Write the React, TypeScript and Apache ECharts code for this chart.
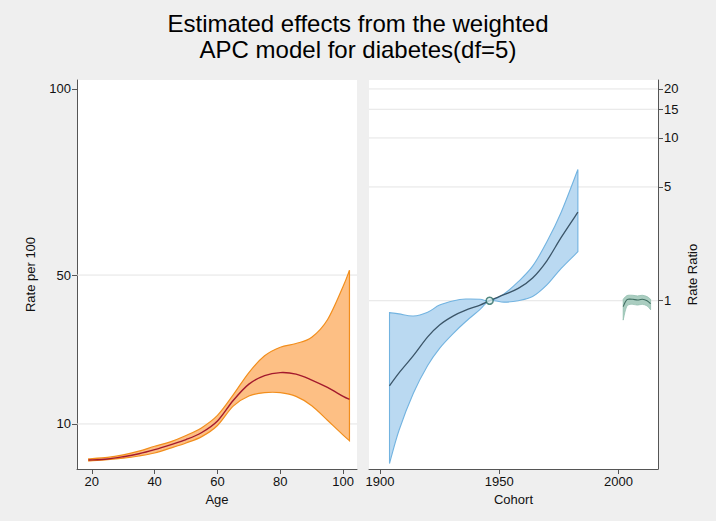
import React, { useEffect, useRef } from "react";
import * as echarts from "echarts";

// ---- Age effect (left panel, Rate per 100) ----
const ageX = [19, 25, 30, 35, 40, 45, 50, 55, 60, 65, 70, 75, 80, 85, 90, 95, 100, 102];
const ageMid = [0.3, 0.6, 1.2, 2.0, 3.1, 4.4, 5.8, 7.7, 10.8, 16.3, 20.7, 23.0, 23.8, 23.4, 21.8, 19.8, 17.4, 16.6];
const ageUpper = [0.6, 1.0, 1.7, 2.7, 4.0, 5.2, 6.9, 9.0, 12.3, 17.8, 23.8, 28.3, 30.6, 31.6, 33.3, 38.0, 47.0, 51.3];
const ageLower = [0.1, 0.4, 0.8, 1.4, 2.2, 3.5, 4.9, 6.6, 9.6, 14.8, 17.5, 18.4, 18.4, 17.4, 14.9, 11.0, 7.0, 5.5];
const ageTicks = [20, 40, 60, 80, 100];
const rateTicks = [10, 50, 100];
const rateGrid = [10, 50];

// ---- Cohort effect (right panel, Rate Ratio) ----
const cohortX = [1904, 1908, 1914, 1920, 1925, 1931, 1936, 1942, 1946, 1952, 1958, 1964, 1970, 1976, 1983];
const cohortMid = [0.30, 0.36, 0.46, 0.60, 0.71, 0.81, 0.875, 0.94, 1.0, 1.09, 1.19, 1.38, 1.76, 2.45, 3.5];
const cohortUpper = [0.845, 0.83, 0.805, 0.85, 0.94, 1.0, 1.024, 1.02, 1.0, 1.1, 1.31, 1.63, 2.3, 3.5, 6.4];
const cohortLower = [0.10, 0.16, 0.27, 0.40, 0.51, 0.635, 0.745, 0.885, 1.0, 0.98, 1.0, 1.06, 1.25, 1.58, 2.0];
const refPoint = [1946, 1];

// ---- Period effect ----
const periodX = [2002, 2003, 2004, 2006, 2008, 2010, 2012, 2013.5];
const periodMid = [0.92, 0.99, 1.02, 1.02, 1.01, 1.02, 1.0, 0.96];
const periodUpper = [1.02, 1.06, 1.08, 1.08, 1.07, 1.08, 1.06, 1.02];
const periodLower = [0.76, 0.88, 0.94, 0.95, 0.94, 0.95, 0.93, 0.88];

const cohortTicks = [1900, 1950, 2000];
const rrTicks = [1, 5, 10, 15, 20];

const FONT = "'Liberation Sans', Arial, sans-serif";
const AXIS_COLOR = "#555555";
const GRID_COLOR = "#e4e4e4";

const AGE_MIN = 15.3, AGE_MAX = 104.4;
const RATE_MIN = -2.1, RATE_MAX = 102.4;
const COH_MIN = 1895.4, COH_MAX = 2016.6;
const RR_MIN = 0.0925, RR_MAX = 22.7;

type Pt = number[];

// Catmull-Rom spline through pixel points -> cubic bezier path segment
function crPath(pts: Pt[], move: boolean): string {
  const n = pts.length;
  let d = (move ? "M" : "L") + pts[0][0].toFixed(2) + " " + pts[0][1].toFixed(2);
  for (let i = 0; i < n - 1; i++) {
    const p0 = pts[Math.max(i - 1, 0)];
    const p1 = pts[i];
    const p2 = pts[i + 1];
    const p3 = pts[Math.min(i + 2, n - 1)];
    const c1x = p1[0] + (p2[0] - p0[0]) / 6;
    const c1y = p1[1] + (p2[1] - p0[1]) / 6;
    const c2x = p2[0] - (p3[0] - p1[0]) / 6;
    const c2y = p2[1] - (p3[1] - p1[1]) / 6;
    d += ` C${c1x.toFixed(2)} ${c1y.toFixed(2)} ${c2x.toFixed(2)} ${c2y.toFixed(2)} ${p2[0].toFixed(2)} ${p2[1].toFixed(2)}`;
  }
  return d;
}

function bandSeries(xs: number[], lo: number[], hi: number[], mid: number[], gi: number,
  fill: string, border: string, midColor: string, bw: number, mw: number) {
  return [
    {
      type: "custom", xAxisIndex: gi, yAxisIndex: gi, silent: true, clip: false, z: 2,
      data: [[xs[0], lo[0]]],
      renderItem: (_p: any, api: any) => {
        const up = xs.map((x, i) => api.coord([x, hi[i]]));
        const dn = xs.map((x, i) => api.coord([x, lo[i]])).reverse();
        const d = crPath(up, true) + " " + crPath(dn, false) + " Z";
        return { type: "path", shape: { pathData: d }, style: { fill, stroke: border, lineWidth: bw } };
      },
    },
    {
      type: "custom", xAxisIndex: gi, yAxisIndex: gi, silent: true, clip: false, z: 3,
      data: [[xs[0], mid[0]]],
      renderItem: (_p: any, api: any) => {
        const pts = xs.map((x, i) => api.coord([x, mid[i]]));
        return { type: "path", shape: { pathData: crPath(pts, true) }, style: { fill: "none", stroke: midColor, lineWidth: mw } };
      },
    },
  ];
}

function gridLines(vals: number[], gi: number, x0: number, x1: number) {
  return vals.map((v) => ({
    type: "line", xAxisIndex: gi, yAxisIndex: gi, symbol: "none", silent: true,
    data: [[x0, v], [x1, v]], lineStyle: { color: GRID_COLOR, width: 1 }, z: 1,
  }));
}

function axisCommon(ticks: number[]) {
  return {
    axisLine: { show: true, onZero: false, lineStyle: { color: AXIS_COLOR, width: 1 } },
    axisTick: { show: true, customValues: ticks, length: 5, lineStyle: { color: AXIS_COLOR } },
    axisLabel: { customValues: ticks, fontSize: 13, color: "#111", fontFamily: FONT, margin: 6, formatter: (v: number) => String(v) },
    splitLine: { show: false },
    nameLocation: "middle",
    nameTextStyle: { fontSize: 13, color: "#111", fontFamily: FONT },
  };
}

export default function App() {
  const ref = useRef<HTMLDivElement>(null);
  useEffect(() => {
    if (!ref.current) return;
    const chart = echarts.init(ref.current, undefined, { renderer: "svg" });
    chart.setOption({
      animation: false,
      backgroundColor: "#efefef",
      textStyle: { fontFamily: FONT },
      title: {
        text: "Estimated effects from the weighted\nAPC model for diabetes(df=5)",
        left: "center",
        top: 6,
        textStyle: { fontSize: 24, lineHeight: 25.5, fontWeight: "normal", color: "#000", fontFamily: FONT },
      },
      grid: [
        { left: 77, top: 80, width: 280, height: 389, show: true, backgroundColor: "#ffffff", borderWidth: 0 },
        { left: 369, top: 80, width: 289, height: 389, show: true, backgroundColor: "#ffffff", borderWidth: 0 },
      ],
      xAxis: [
        { ...axisCommon(ageTicks), gridIndex: 0, type: "value", min: AGE_MIN, max: AGE_MAX, name: "Age", nameGap: 21 },
        { ...axisCommon(cohortTicks), gridIndex: 1, type: "value", min: COH_MIN, max: COH_MAX, name: "Cohort", nameGap: 21 },
      ],
      yAxis: [
        { ...axisCommon(rateTicks), gridIndex: 0, type: "value", position: "left", min: RATE_MIN, max: RATE_MAX, name: "Rate per 100", nameGap: 40 },
        { ...axisCommon(rrTicks), gridIndex: 1, type: "log", logBase: 10, position: "right", min: RR_MIN, max: RR_MAX, name: "Rate Ratio", nameGap: 28 },
      ],
      series: [
        ...gridLines(rateGrid, 0, AGE_MIN, AGE_MAX),
        ...gridLines(rrTicks, 1, COH_MIN, COH_MAX),
        ...bandSeries(ageX, ageLower, ageUpper, ageMid, 0, "#fdbf84", "#f28e1c", "#a3192d", 1.2, 1.4),
        ...bandSeries(cohortX, cohortLower, cohortUpper, cohortMid, 1, "#bad9f1", "#72b3e0", "#3b5568", 1.1, 1.3),
        ...bandSeries(periodX, periodLower, periodUpper, periodMid, 1, "#aacdc0", "#93bfb0", "#3f6d60", 0.8, 1.1),
        {
          type: "scatter", xAxisIndex: 1, yAxisIndex: 1, silent: true, data: [refPoint],
          symbol: "circle", symbolSize: 7,
          itemStyle: { color: "#d6ecec", borderColor: "#2b6a63", borderWidth: 1.5 }, z: 6,
        },
      ],
    });
    return () => chart.dispose();
  }, []);
  return <div ref={ref} style={{ position: "fixed", left: 0, top: 0, width: 716, height: 521 }} />;
}
